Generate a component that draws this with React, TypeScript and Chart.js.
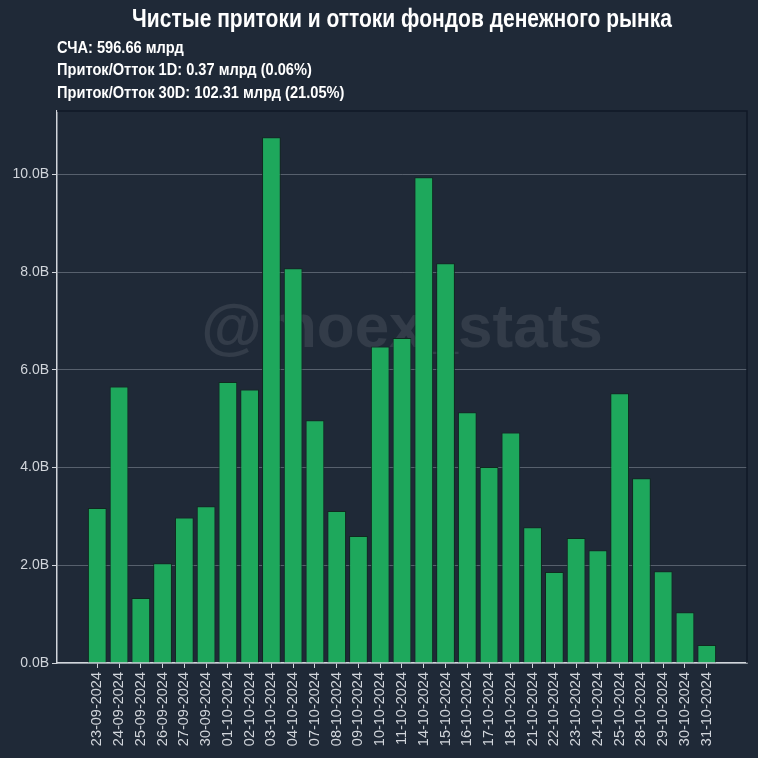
import React, { useEffect, useRef } from "react";
import { Chart, registerables } from "chart.js";

Chart.register(...registerables);

const TITLE = "Чистые притоки и оттоки фондов денежного рынка";
const INFO_LINES = [
  "СЧА: 596.66 млрд",
  "Приток/Отток 1D: 0.37 млрд (0.06%)",
  "Приток/Отток 30D: 102.31 млрд (21.05%)",
];
const WATERMARK = "@moex_stats";

const dates = [
  "23-09-2024", "24-09-2024", "25-09-2024", "26-09-2024", "27-09-2024", "30-09-2024",
  "01-10-2024", "02-10-2024", "03-10-2024", "04-10-2024", "07-10-2024", "08-10-2024",
  "09-10-2024", "10-10-2024", "11-10-2024", "14-10-2024", "15-10-2024", "16-10-2024",
  "17-10-2024", "18-10-2024", "21-10-2024", "22-10-2024", "23-10-2024", "24-10-2024",
  "25-10-2024", "28-10-2024", "29-10-2024", "30-10-2024", "31-10-2024",
];
const flowsB = [
  3.17, 5.66, 1.33, 2.04, 2.98, 3.21,
  5.75, 5.60, 10.76, 8.08, 4.97, 3.11,
  2.60, 6.48, 6.65, 9.94, 8.18, 5.13,
  4.01, 4.72, 2.78, 1.86, 2.56, 2.31,
  5.52, 3.78, 1.88, 1.04, 0.37,
];
const yTickStep = 2;

const BG = "#1f2937";
const DARK = "#111827";
const LIGHT = "#d1d5db";
const GREEN = "#1ea85c";
const SANS = "'Liberation Sans', Arial, sans-serif";

function condensedText(ctx: any, text: string, x: number, y: number, sx: number) {
  ctx.save();
  ctx.translate(x, y);
  ctx.scale(sx, 1);
  ctx.fillText(text, 0, 0);
  ctx.restore();
}

export default function App() {
  const ref = useRef<HTMLCanvasElement | null>(null);
  useEffect(() => {
    document.body.style.margin = "0";
    document.body.style.background = BG;
    const canvas = ref.current!;
    const decor = {
      id: "decor",
      beforeDraw(chart: any) {
        const { ctx, width, height } = chart;
        ctx.save();
        ctx.fillStyle = BG;
        ctx.fillRect(0, 0, width, height);
        ctx.restore();
      },
      beforeDatasetsDraw(chart: any) {
        const { ctx, chartArea } = chart;
        ctx.save();
        ctx.fillStyle = "rgba(255,255,255,0.09)";
        ctx.font = "bold 62px " + SANS;
        ctx.textAlign = "center";
        ctx.textBaseline = "middle";
        ctx.fillText(WATERMARK, (chartArea.left + chartArea.right) / 2, 330);
        ctx.restore();
      },
      afterDraw(chart: any) {
        const { ctx, chartArea } = chart;
        ctx.save();
        ctx.strokeStyle = DARK;
        ctx.lineWidth = 1.5;
        ctx.beginPath();
        ctx.moveTo(chartArea.left, chartArea.top);
        ctx.lineTo(chartArea.right, chartArea.top);
        ctx.lineTo(chartArea.right, chartArea.bottom);
        ctx.stroke();
        ctx.fillStyle = "#ffffff";
        ctx.textAlign = "center";
        ctx.textBaseline = "middle";
        ctx.font = "bold 25px " + SANS;
        condensedText(ctx, TITLE, (chartArea.left + chartArea.right) / 2, 20, 0.84);
        ctx.textAlign = "left";
        ctx.font = "bold 17px " + SANS;
        INFO_LINES.forEach((t, i) => condensedText(ctx, t, 57, 48 + i * 22.5, 0.86));
        ctx.restore();
      },
    };
    const chart = new Chart(canvas, {
      type: "bar",
      data: {
        datasets: [
          {
            data: flowsB.map((v, i) => ({ x: i, y: v })),
            backgroundColor: GREEN,
            borderColor: "#10291f",
            borderWidth: 1,
            categoryPercentage: 1,
            barPercentage: 0.86,
          },
        ],
      },
      options: {
        responsive: false,
        animation: false,
        layout: { padding: { top: 111, right: 11, left: 0, bottom: 0 } },
        plugins: { legend: { display: false }, tooltip: { enabled: false } },
        scales: {
          x: {
            type: "linear",
            offset: false,
            min: -1.85,
            max: dates.length - 1 + 1.85,
            afterBuildTicks(scale: any) {
              scale.ticks = dates.map((_, i) => ({ value: i }));
            },
            afterFit(scale: any) {
              scale.height = 95;
            },
            ticks: {
              autoSkip: false,
              minRotation: 90,
              maxRotation: 90,
              color: LIGHT,
              font: { size: 14.5, family: SANS },
              padding: 4,
              callback: (v: any) => dates[v] ?? "",
            },
            grid: { offset: false, drawOnChartArea: false, drawTicks: true, tickLength: 5, tickColor: LIGHT },
            border: { display: true, color: LIGHT, width: 1.5 },
          },
          y: {
            min: 0,
            max: Math.max(...flowsB) * 1.05,
            afterBuildTicks(scale: any) {
              const t = [];
              for (let v = 0; v <= scale.max; v += yTickStep) t.push({ value: v });
              scale.ticks = t;
            },
            afterFit(scale: any) {
              scale.width = 57;
            },
            ticks: {
              color: LIGHT,
              font: { size: 14, family: SANS },
              padding: 3,
              callback: (v: any) => Number(v).toFixed(1) + "B",
            },
            grid: { color: "rgba(156,163,175,0.45)", lineWidth: 1, tickLength: 5, tickColor: LIGHT },
            border: { display: true, color: LIGHT, width: 1.5 },
          },
        },
      },
      plugins: [decor],
    } as any);
    return () => chart.destroy();
  }, []);
  return <canvas ref={ref} width={758} height={758} style={{ display: "block" }} />;
}
